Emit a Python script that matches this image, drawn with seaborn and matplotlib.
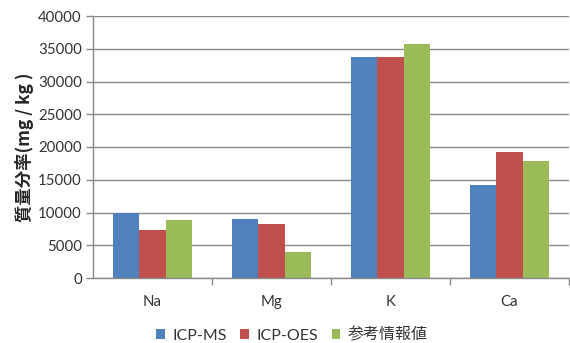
import matplotlib
matplotlib.use("Agg")
import matplotlib.pyplot as plt
import seaborn as sns
import pandas as pd

elements = ["Na", "Mg", "K", "Ca"]
methods = ["ICP-MS", "ICP-OES", "参考情報値"]
icp_ms = [10000, 9000, 33700, 14200]
icp_oes = [7400, 8200, 33700, 19300]
reference = [8900, 4000, 35800, 17900]
y_ticks = [0, 5000, 10000, 15000, 20000, 25000, 30000, 35000, 40000]
y_label = "質量分率(mg / kg )"

colors = ["#4F81BD", "#C0504D", "#9BBB59"]

rows = []
for name, vals in zip(methods, [icp_ms, icp_oes, reference]):
    for el, v in zip(elements, vals):
        rows.append({"element": el, "method": name, "value": v})
df = pd.DataFrame(rows)

sns.set_theme(style="white")
plt.rcParams["font.family"] = ["Lato", "Noto Sans CJK JP", "DejaVu Sans"]

fig = plt.figure(figsize=(5.70, 3.43), dpi=100)
ax = fig.add_axes([93 / 570, 65 / 343, 476 / 570, 262 / 343])

sns.barplot(data=df, x="element", y="value", hue="method", order=elements,
            hue_order=methods, palette=colors, width=0.67, saturation=1,
            linewidth=0, ax=ax, legend=True)

gray = "#898989"
text_color = "#333333"
ax.set_ylim(0, 40000)
ax.set_xlim(-0.5, 3.5)
ax.set_yticks(y_ticks)
ax.set_yticklabels([str(t) for t in y_ticks], fontsize=10.8, color=text_color)
ax.yaxis.grid(True, color=gray, linewidth=1)
ax.set_axisbelow(True)
ax.tick_params(axis="y", direction="out", length=5, width=1, color=gray, pad=3, left=True)

# category boundaries carry the tick marks, labels sit at centers
ax.set_xticks([0.5, 1.5, 2.5, 3.5])
ax.set_xticklabels([])
ax.set_xticks(range(len(elements)), minor=True)
ax.set_xticklabels(elements, minor=True, fontsize=10.8, color=text_color)
ax.tick_params(axis="x", which="major", direction="out", length=5, width=1, color=gray, bottom=True)
ax.tick_params(axis="x", which="minor", length=0, pad=12)

for side in ["top", "right"]:
    ax.spines[side].set_visible(False)
for side in ["left", "bottom"]:
    ax.spines[side].set_color(gray)
    ax.spines[side].set_linewidth(1)

ax.set_xlabel("")
ax.set_ylabel(y_label, fontsize=12.5, fontweight="bold",
              family=["Noto Sans CJK JP", "DejaVu Sans"], labelpad=3)

ax.legend(loc="center", bbox_to_anchor=((292 - 93) / 476, -57 / 262), ncol=3,
          frameon=False, fontsize=11.5, handlelength=0.55, handleheight=0.55,
          handletextpad=0.45, columnspacing=0.85, labelcolor=text_color)

fig.savefig("out.png", dpi=100)
